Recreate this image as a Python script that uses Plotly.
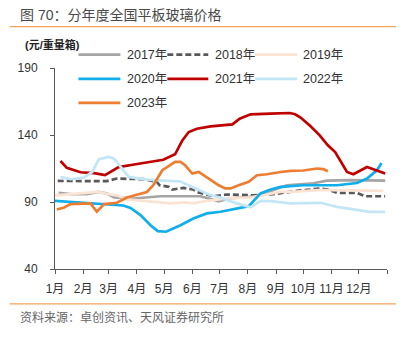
import plotly.graph_objects as go

# ---------------- data (day-of-year, price 元/重量箱) ----------------
months = ["1月", "2月", "3月", "4月", "5月", "6月", "7月", "8月", "9月", "10月", "11月", "12月", ""]
month_start_days = [0, 31, 59, 90, 120, 151, 181, 212, 243, 273, 304, 334, 365]
y_ticks = [40, 90, 140, 190]

d2017 = [4, 19, 35, 48, 57, 65, 87, 116, 160, 174, 180, 193, 214, 228, 237, 255, 284, 299, 324, 363]
v2017 = [96.8, 95.8, 95.8, 97.5, 96.3, 93.4, 92.6, 94.3, 94.3, 91.9, 90.5, 92.8, 93.8, 96, 98, 102.5, 104, 106, 106.3, 106]

d2018 = [3, 24, 57, 68, 97, 112, 115, 125, 129, 141, 152, 156, 174, 189, 218, 240, 266, 292, 300, 310, 332, 341, 363]
v2018 = [105.7, 105.7, 105.6, 107.5, 107, 105, 102.5, 101.3, 99.3, 100.5, 99.3, 97.5, 94.3, 95.6, 95, 95.8, 98.3, 100.1, 99.3, 96.8, 96.8, 94.3, 94.3]

d2019 = [0, 17, 35, 48, 59, 68, 79, 105, 127, 143, 152, 167, 189, 215, 233, 248, 262, 288, 306, 361]
v2019 = [95, 95.8, 96.8, 97.5, 95.8, 95, 91.9, 90.1, 89, 89.7, 89, 90.9, 92.6, 93.4, 95.8, 97.5, 97.5, 98.8, 98.8, 98.3]

d2020 = [0, 17, 39, 61, 75, 83, 94, 105, 113, 122, 138, 152, 167, 182, 200, 213, 226, 237, 248, 273, 310, 332, 343, 354, 359]
v2020 = [90.8, 90, 89.4, 88.2, 87.4, 85.6, 80.2, 72.7, 68.3, 67.8, 72.7, 77.7, 81.5, 82.7, 85.2, 86.9, 96.4, 99.3, 101.3, 102.5, 102.5, 104.2, 107.5, 113.7, 119.1]

d2021 = [6, 13, 28, 43, 55, 62, 70, 87, 105, 119, 132, 140, 147, 156, 171, 195, 203, 215, 237, 258, 264, 270, 281, 291, 300, 308, 321, 328, 343, 354, 363]
v2021 = [120.6, 115.5, 112.2, 111.5, 110, 113, 116, 118, 119.9, 121.5, 125.6, 136, 142.2, 144.7, 146.4, 147.9, 152.2, 155.4, 155.9, 156.4, 155.5, 153, 146.5, 139.7, 132.3, 127.3, 112.4, 110.7, 116.1, 113.7, 111.2]

d2022 = [6, 17, 32, 41, 48, 59, 65, 72, 81, 101, 127, 138, 149, 163, 171, 182, 189, 200, 211, 215, 226, 237, 259, 292, 310, 339, 346, 363]
v2022 = [108.7, 107, 108.3, 112.4, 121.7, 123.6, 122.4, 116.1, 108.7, 106.7, 105.5, 105.3, 101.8, 97.5, 95, 93.4, 91.4, 89, 86.9, 86, 90.9, 90.6, 89, 89.4, 86.4, 83.4, 82.7, 82.7]

d2023 = [2, 10, 17, 39, 46, 54, 68, 79, 101, 108, 118, 123, 132, 138, 143, 151, 158, 169, 180, 187, 193, 202, 213, 222, 233, 248, 259, 273, 288, 295, 300]
v2023 = [84.4, 85.9, 88.4, 89, 82.7, 88.4, 89.4, 93.4, 97.5, 102.5, 113.7, 116.1, 119.9, 119.9, 117.4, 111.2, 112.4, 107.5, 102.5, 100.1, 100.1, 102.5, 105, 110, 110.7, 112.4, 113.2, 113.5, 115, 114.5, 113]

series = [
    ("2017年", d2017, v2017, "#A5A5A5", None),
    ("2018年", d2018, v2018, "#595959", "6px,3px"),
    ("2019年", d2019, v2019, "#FBE3D3", None),
    ("2020年", d2020, v2020, "#10AEEA", None),
    ("2021年", d2021, v2021, "#C00000", None),
    ("2022年", d2022, v2022, "#C3E6F6", None),
    ("2023年", d2023, v2023, "#ED7D31", None),
]

# ---------------- layout geometry ----------------
W, H = 408, 342
L, R, T, B = 54.5, 387, 67.5, 269  # plot area in px
FONT = "Liberation Sans, Arial, Noto Sans CJK SC, sans-serif"


def px(x):
    return (x - L) / (R - L)


def py(y):
    return (B - y) / (B - T)


fig = go.Figure()
for name, d, v, col, dash in series:
    fig.add_trace(go.Scatter(
        x=d, y=v, mode="lines", name=name, showlegend=False,
        line=dict(color=col, width=2.7, dash=dash if dash else "solid"),
    ))

shapes = []
annotations = []

# header / footer rules
for yy in (26, 304):
    shapes.append(dict(type="line", xref="paper", yref="paper",
                       x0=px(9), x1=px(396), y0=py(yy), y1=py(yy),
                       line=dict(color="#F5A35C", width=1.2)))

annotations.append(dict(text="图 70：分年度全国平板玻璃价格", xref="paper", yref="paper",
                        x=px(17), y=py(14), xanchor="left", yanchor="middle", showarrow=False,
                        font=dict(size=14, color="#4a4a4a", family=FONT)))
annotations.append(dict(text="资料来源：卓创资讯、天风证券研究所", xref="paper", yref="paper",
                        x=px(17), y=py(318), xanchor="left", yanchor="middle", showarrow=False,
                        font=dict(size=12, color="#666666", family=FONT)))
annotations.append(dict(text="<b>(元/重量箱)</b>", xref="paper", yref="paper",
                        x=px(22), y=py(44), xanchor="left", yanchor="middle", showarrow=False,
                        font=dict(size=11, color="#222222", family=FONT)))

# manual legend (3 columns)
col_line = [(78, 120), (167, 208), (255, 297)]
col_text = [125, 213, 301]
row_y = [54, 78.5, 102.5]
for i, (name, d, v, col, dash) in enumerate(series):
    r, c = divmod(i, 3)
    x0, x1 = col_line[c]
    shapes.append(dict(type="line", xref="paper", yref="paper",
                       x0=px(x0), x1=px(x1), y0=py(row_y[r]), y1=py(row_y[r]),
                       line=dict(color=col, width=2.7, dash=dash if dash else "solid")))
    annotations.append(dict(text=name, xref="paper", yref="paper",
                            x=px(col_text[c]), y=py(row_y[r]), xanchor="left", yanchor="middle",
                            showarrow=False, font=dict(size=12.5, color="#333333", family=FONT)))

fig.update_layout(
    width=W, height=H,
    margin=dict(l=L, r=W - R, t=T, b=H - B, pad=0),
    paper_bgcolor="white", plot_bgcolor="white",
    font=dict(family=FONT, size=12, color="#333333"),
    shapes=shapes, annotations=annotations,
    showlegend=False,
)
fig.update_xaxes(range=[0, 365], tickmode="array", tickvals=month_start_days, ticktext=months,
                 showgrid=False, zeroline=False, showline=True, linecolor="#595959", linewidth=1,
                 ticks="outside", ticklen=4, tickcolor="#595959", ticklabelstandoff=5,
                 tickfont=dict(size=12, color="#333333"))
fig.update_yaxes(range=[40, 190], tickmode="array", tickvals=y_ticks,
                 showgrid=False, zeroline=False, showline=True, linecolor="#595959", linewidth=1,
                 ticks="outside", ticklen=4, tickcolor="#595959", ticklabelstandoff=10,
                 tickfont=dict(size=12, color="#333333"))

fig.write_html("out.html")
